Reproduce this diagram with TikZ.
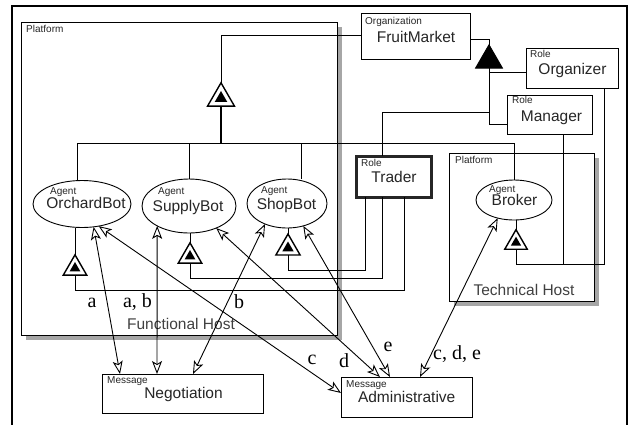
\documentclass[tikz,border=0pt]{standalone}
\usepackage{fontspec}
\setmainfont{Liberation Sans}
\newfontfamily\lettfont{Liberation Serif}
\usetikzlibrary{arrows.meta,shapes.geometric,shadows,calc}

\tikzset{
  host/.style={draw, line width=0.9pt, fill=white, inner sep=0pt, outer sep=0pt,
    drop shadow={shadow xshift=5pt, shadow yshift=-5pt, fill=black!35, opacity=1}},
  box/.style={draw, line width=0.9pt, fill=white, inner sep=0pt, outer sep=0pt},
  agent/.style={draw, ellipse, line width=0.9pt, fill=white, inner sep=0pt, outer sep=0pt},
  kind/.style={font=\fontsize{10}{10}\selectfont, anchor=base west, inner sep=0pt, text=black!85},
  maintext/.style={font=\fontsize{15.5}{16}\selectfont, anchor=base, inner sep=0pt, text=black!85},
  hostname/.style={font=\fontsize{15.5}{16}\selectfont, anchor=base, inner sep=0pt, text=black!75},
  msglabel/.style={font=\lettfont\fontsize{20}{20}\selectfont, anchor=base, inner sep=0pt},
  link/.style={line width=0.9pt},
  gentri/.style={regular polygon, regular polygon sides=3, draw, line width=1.4pt,
    fill=white, inner sep=0pt, outer sep=0pt},
  gencore/.style={regular polygon, regular polygon sides=3, fill=black,
    inner sep=0pt, outer sep=0pt},
  aggtri/.style={regular polygon, regular polygon sides=3, draw, fill=black,
    line width=0.9pt, inner sep=0pt, outer sep=0pt},
  msg/.style={link, {Stealth[open,length=13pt,width=10pt,inset=3pt]}-{Stealth[open,length=13pt,width=10pt,inset=3pt]}},
}

\begin{document}
\begin{tikzpicture}[x=1pt,y=-1pt]
\useasboundingbox (0,0) rectangle (631,424);
\clip (0,0) rectangle (631,424);

% outer frame
\draw[line width=2pt] (12,6) rectangle (627,440);

% hosts
\node[host, minimum width=316pt, minimum height=313pt] (fh) at (179,178.5) {};
\node[host, minimum width=145pt, minimum height=148pt] (th) at (521.5,227) {};
\node[kind] (fhk) at (26,32) {Platform};
\node[kind] (thk) at (455,163) {Platform};
\node[hostname] (fhn) at (181,329) {Functional Host};
\node[hostname] (thn) at (524,295) {Technical Host};

% organization and roles
\node[box, minimum width=109pt, minimum height=46pt] (fm) at (415.5,36) {};
\node[box, minimum width=92pt, minimum height=40pt] (og) at (572,68) {};
\node[box, minimum width=85pt, minimum height=39pt] (mg) at (549.5,114.5) {};
\node[box, line width=3pt, draw=black!85, minimum width=75pt, minimum height=41pt] (tr) at (393.5,176.5) {};
\node[kind] (fmk) at (365,24) {Organization};
\node[maintext] (fmn) at (416,42) {FruitMarket};
\node[kind] (ogk) at (530,57.5) {Role};
\node[maintext] (ogn) at (572.5,74) {Organizer};
\node[kind] (mgk) at (512,103) {Role};
\node[maintext] (mgn) at (551.5,121) {Manager};
\node[kind] (trk) at (361,166) {Role};
\node[maintext] (trn) at (394,182) {Trader};

% agents
\node[agent, minimum width=98pt, minimum height=47pt] (ob) at (82,204) {};
\node[agent, minimum width=94pt, minimum height=54pt] (sb) at (189,206) {};
\node[agent, minimum width=80pt, minimum height=49pt] (sh) at (287,203.5) {};
\node[agent, minimum width=76pt, minimum height=40pt] (br) at (514,200) {};
\node[kind] (obk) at (50,194) {Agent};
\node[maintext] (obn) at (86,208) {OrchardBot};
\node[kind] (sbk) at (158,194) {Agent};
\node[maintext] (sbn) at (188,211) {SupplyBot};
\node[kind] (shk) at (261,193) {Agent};
\node[maintext] (shn) at (286.5,209) {ShopBot};
\node[kind] (brk) at (489,192) {Agent};
\node[maintext] (brn) at (514.5,205) {Broker};

% messages
\node[box, minimum width=161pt, minimum height=39pt] (ng) at (182.5,393.5) {};
\node[box, minimum width=131pt, minimum height=40pt] (ad) at (406.5,397) {};
\node[kind] (ngk) at (107,383) {Message};
\node[maintext] (ngn) at (183.5,398) {Negotiation};
\node[kind] (adk) at (346,387) {Message};
\node[maintext] (adn) at (406.7,402) {Administrative};

% generalisation triangles
\node[gentri, minimum size=31pt] (tg) at (221,98.3) {};
\node[gencore, minimum size=14.5pt] (tgc) at (tg.center) {};
\node[gentri, minimum size=27pt] (tor) at (75,268.3) {};
\node[gencore, minimum size=12.5pt] (torc) at (tor.center) {};
\node[gentri, minimum size=27pt] (tsu) at (190,256.3) {};
\node[gencore, minimum size=12.5pt] (tsuc) at (tsu.center) {};
\node[gentri, minimum size=28pt] (tsh) at (288,248) {};
\node[gencore, minimum size=13pt] (tshc) at (tsh.center) {};
\node[gentri, minimum size=26pt] (tb) at (516,242.7) {};
\node[gencore, minimum size=12pt] (tbc) at (tb.center) {};
\node[aggtri, minimum size=31pt] (ft) at (489,60.3) {};

% platform hierarchy
\coordinate (bus) at (221,143);
\draw[link] (tg.corner 1) |- ([yshift=1pt]fm.west);
\draw[line width=2pt] (tg.side 2) -- (bus);
\draw[link] ([xshift=-5pt]ob.north) |- (bus);
\draw[link] (sb.north) |- (bus);
\draw[link] ([xshift=14pt]sh.north) |- (bus);
\draw[link] (br.north) |- (bus);

% organization structure
\coordinate (tj) at (489,112);
\draw[link] ([yshift=-3pt]fm.east) -| (ft.corner 1);
\draw[link] (ft.side 2) |- ([yshift=-9.5pt]mg.west);
\draw[link] ([yshift=-4pt]og.west) -| (ft.side 2);
\draw[link] ([xshift=-11.5pt]tr.north) |- (tj);

% role bindings
\draw[link] (tsh.side 2) -- ++(0,15) -| ([xshift=-28.5pt]tr.south);
\draw[link] (tsu.side 2) -- ++(0,15) -| ([xshift=-11.5pt]tr.south);
\draw[link] (tor.side 2) -- ++(0,15) -| ([xshift=10.5pt]tr.south);
\draw[link] (tb.side 2) -- ++(0,15) -| ([xshift=32pt]og.south);
\draw[link] ([xshift=13.5pt]mg.south) -- ++(0,130);

% agent to triangle stubs
\draw[link] (tor.corner 1) -- (tor.corner 1 |- ob.south);
\draw[link] (tsu.corner 1) -- (tsu.corner 1 |- sb.south);
\draw[link] (tsh.corner 1) -- (tsh.corner 1 |- sh.south);
\draw[link] (tb.corner 1) -- (tb.corner 1 |- br.south);

% message flows
\draw[msg] (ob.-63) -- ([xshift=-62.5pt]ng.north);
\draw[msg] (sb.212) -- ([xshift=-25.5pt]ng.north);
\draw[msg] (sh.223) -- ([xshift=10.5pt]ng.north);
\draw[msg] (ob.-53) -- ([yshift=4pt]ad.west);
\draw[msg] (sb.-39) -- ([xshift=-26.5pt]ad.north);
\draw[msg] (sh.-54) -- ([xshift=-16.5pt]ad.north);
\draw[msg] (br.228) -- ([xshift=13.5pt]ad.north);

% flow labels
\node[msglabel] (la) at (92,307) {a};
\node[msglabel] (lab) at (137.5,307) {a, b};
\node[msglabel] (lb) at (239,308) {b};
\node[msglabel] (lc) at (312,364) {c};
\node[msglabel] (ld) at (344,367) {d};
\node[msglabel] (le) at (388,351) {e};
\node[msglabel] (lcde) at (457,359) {c, d, e};
\end{tikzpicture}
\end{document}
